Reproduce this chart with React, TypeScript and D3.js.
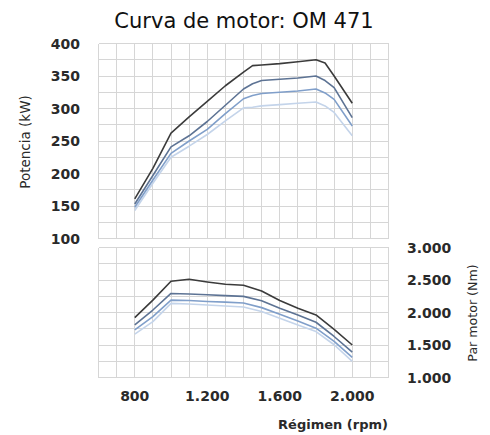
import React from 'react';
import * as d3 from 'd3';

// régimen (rpm) de los puntos leídos
const powerRpm = [800, 900, 1000, 1100, 1200, 1300, 1400, 1450, 1500, 1600, 1700, 1800, 1850, 1900, 2000];
const powerA = [161, 208, 262, 287, 311, 335, 356, 366, 367, 369, 372, 375, 370, 350, 308];
const powerB = [153, 197, 241, 258, 280, 305, 330, 338, 343, 345, 347, 350, 343, 332, 286];
const powerC = [148, 190, 231, 250, 268, 292, 315, 320, 323, 325, 327, 330, 324, 314, 273];
const powerD = [143, 185, 225, 242, 260, 281, 301, 302, 304, 306, 308, 310, 304, 294, 258];

const torqueRpm = [800, 900, 1000, 1100, 1200, 1300, 1400, 1500, 1600, 1700, 1800, 1900, 2000];
const torqueA = [1921, 2190, 2481, 2511, 2470, 2435, 2420, 2330, 2185, 2064, 1962, 1740, 1500];
const torqueB = [1809, 2038, 2293, 2285, 2272, 2260, 2248, 2180, 2064, 1962, 1850, 1631, 1392];
const torqueC = [1733, 1936, 2190, 2185, 2170, 2160, 2145, 2075, 1973, 1870, 1759, 1555, 1310];
const torqueD = [1667, 1859, 2140, 2130, 2115, 2100, 2085, 2015, 1912, 1809, 1707, 1504, 1249];

const seriesColors = ['#3b3b3b', '#5d7394', '#809fca', '#c4d4ea'];

const powerTicks = [100, 150, 200, 250, 300, 350, 400];
const torqueTicks = [1000, 1500, 2000, 2500, 3000];
const rpmTicks = [800, 1200, 1600, 2000];

const fmt = (v: number) => d3.format(',')(v).replace(/,/g, '.');

export default function App() {
  const x = d3.scaleLinear().domain([600, 2200]).range([98.5, 388.5]);
  const yP = d3.scaleLinear().domain([100, 400]).range([238.5, 43.5]);
  const yT = d3.scaleLinear().domain([1000, 3000]).range([377.5, 247.5]);

  const powerSeries = [powerA, powerB, powerC, powerD];
  const torqueSeries = [torqueA, torqueB, torqueC, torqueD];

  const lineP = (vals: number[]) =>
    d3.line<number>().x((_, i) => x(powerRpm[i])).y((v) => yP(v))(vals) || '';
  const lineT = (vals: number[]) =>
    d3.line<number>().x((_, i) => x(torqueRpm[i])).y((v) => yT(v))(vals) || '';

  const vGrid = d3.range(600, 2201, 100);
  const hGridP = d3.range(100, 401, 25);
  const hGridT = d3.range(1000, 3001, 250);

  const gridColor = '#d6d6d6';
  const font = 'DejaVu Sans, sans-serif';

  return (
    <svg
      width={490}
      height={435}
      viewBox="0 0 490 435"
      style={{ position: 'absolute', left: 0, top: 0, background: '#fff' }}
    >
      <text x={244} y={28} textAnchor="middle" fontFamily={font} fontSize={21} fill="#111">
        Curva de motor: OM 471
      </text>

      {/* panel potencia */}
      <g shapeRendering="crispEdges">
        {vGrid.map((r) => (
          <line key={'pv' + r} x1={x(r)} x2={x(r)} y1={yP(100)} y2={yP(400)} stroke={gridColor} />
        ))}
        {hGridP.map((v) => (
          <line key={'ph' + v} x1={x(600)} x2={x(2200)} y1={yP(v)} y2={yP(v)} stroke={gridColor} />
        ))}
        {vGrid.map((r) => (
          <line key={'tv' + r} x1={x(r)} x2={x(r)} y1={yT(1000)} y2={yT(3000)} stroke={gridColor} />
        ))}
        {hGridT.map((v) => (
          <line key={'th' + v} x1={x(600)} x2={x(2200)} y1={yT(v)} y2={yT(v)} stroke={gridColor} />
        ))}
      </g>

      {powerSeries
        .map((s, i) => ({ s, i }))
        .reverse()
        .map(({ s, i }) => (
          <path key={'p' + i} d={lineP(s)} fill="none" stroke={seriesColors[i]} strokeWidth={1.6} strokeLinejoin="round" />
        ))}
      {torqueSeries
        .map((s, i) => ({ s, i }))
        .reverse()
        .map(({ s, i }) => (
          <path key={'t' + i} d={lineT(s)} fill="none" stroke={seriesColors[i]} strokeWidth={1.6} strokeLinejoin="round" />
        ))}

      {/* ejes */}
      {powerTicks.map((v) => (
        <text key={'pt' + v} x={80} y={yP(v)} dy="0.36em" textAnchor="end" fontFamily={font} fontWeight="bold" fontSize={14} fill="#2a2a2a">
          {v}
        </text>
      ))}
      {torqueTicks.map((v) => (
        <text key={'tt' + v} x={407} y={yT(v)} dy="0.36em" textAnchor="start" fontFamily={font} fontWeight="bold" fontSize={14} fill="#2a2a2a">
          {fmt(v)}
        </text>
      ))}
      {rpmTicks.map((r) => (
        <text key={'rt' + r} x={x(r)} y={401} textAnchor="middle" fontFamily={font} fontWeight="bold" fontSize={14} fill="#2a2a2a">
          {fmt(r)}
        </text>
      ))}

      <text transform="translate(30,142) rotate(-90)" textAnchor="middle" fontFamily={font} fontSize={13.5} fill="#2a2a2a">
        Potencia (kW)
      </text>
      <text transform="translate(477,313) rotate(-90)" textAnchor="middle" fontFamily={font} fontSize={12.6} fill="#2a2a2a">
        Par motor (Nm)
      </text>
      <text x={388} y={429} textAnchor="end" fontFamily={font} fontWeight="bold" fontSize={13} fill="#2a2a2a">
        Régimen (rpm)
      </text>
    </svg>
  );
}
